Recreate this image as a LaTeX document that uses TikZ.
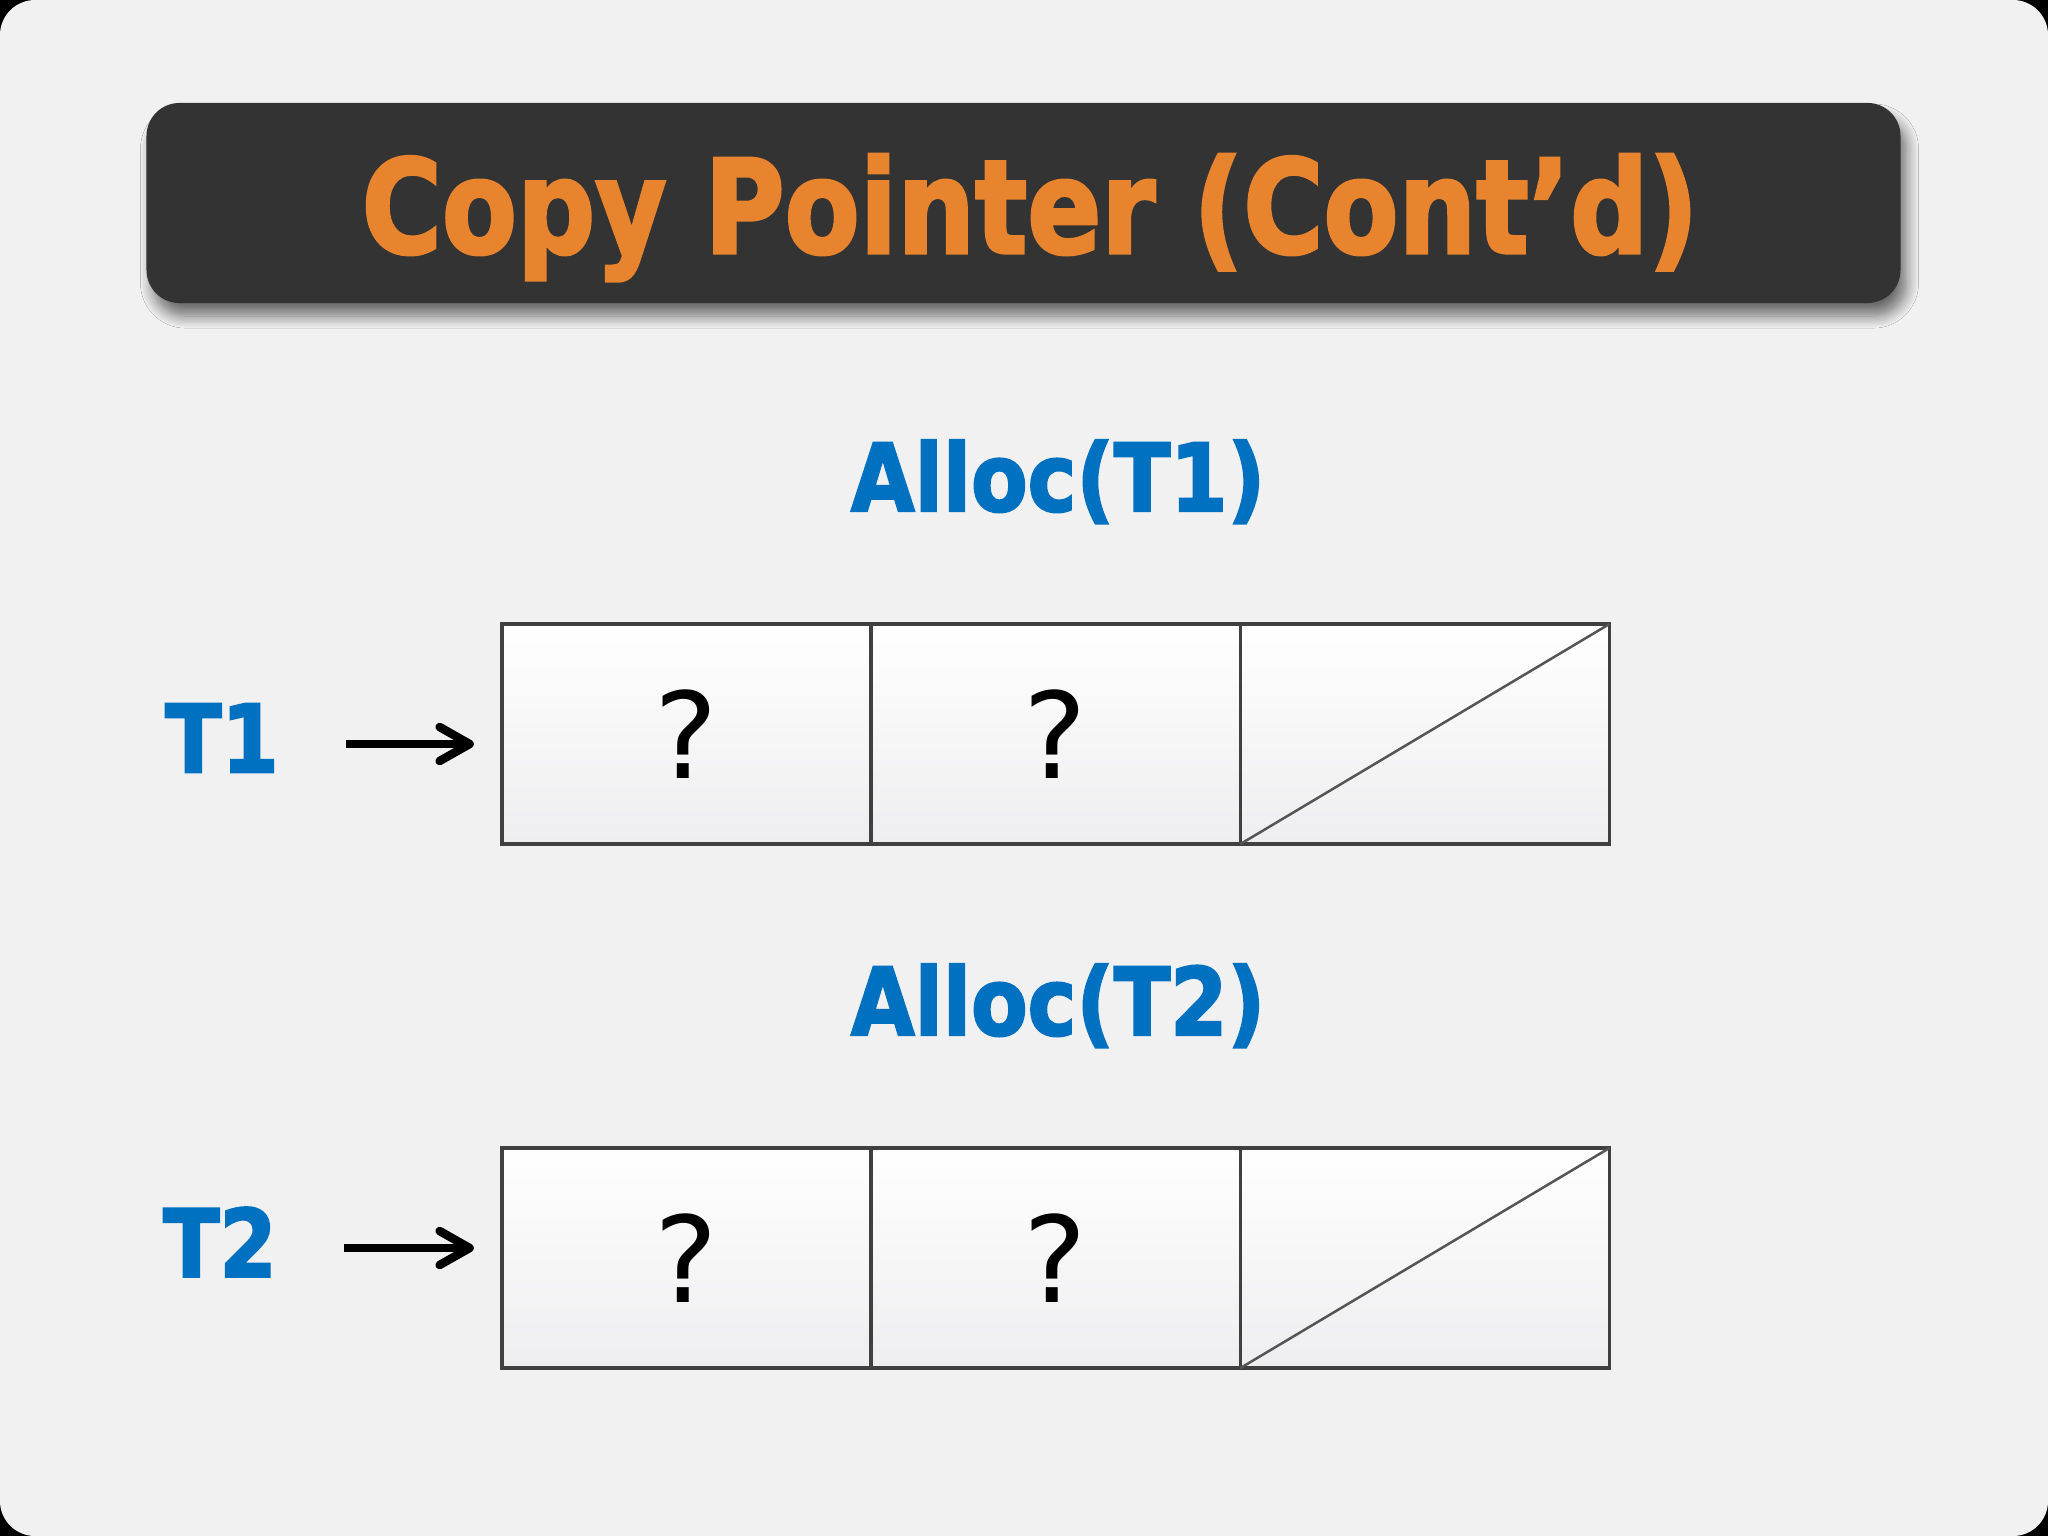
\documentclass[tikz,border=0pt]{standalone}
\usepackage{fontspec}
\usetikzlibrary{positioning,arrows.meta,shadows.blur}
\newfontfamily\labelfont{DejaVu Sans}
\newfontfamily\heavyfont{DejaVu Sans Bold}[FakeBold=2.5]
\newcommand{\squeeze}[2][0.88]{\scalebox{#1}[1]{#2}}
\definecolor{bgcol}{HTML}{F1F1F2}
\definecolor{titlebox}{HTML}{333333}
\definecolor{titleorange}{HTML}{E8832E}
\definecolor{labelblue}{HTML}{0070C0}
\definecolor{cellline}{HTML}{404040}
\definecolor{cellbot}{HTML}{EEEEF0}
\definecolor{slash}{HTML}{555555}

\begin{document}
\begin{tikzpicture}[x=0.01cm,y=-0.01cm,
		cell/.style={draw=cellline,line width=0.035cm,top color=white,bottom color=cellbot,
			minimum width=3.69cm,minimum height=2.2cm,inner sep=0pt,outer sep=0pt,
			font=\labelfont\fontsize{34}{40}\selectfont},
		lbl/.style={text=labelblue,inner sep=0pt,font=\heavyfont\fontsize{26.6}{32}\selectfont},
		ptr/.style={line width=0.085cm,-{Straight Barb[length=0.3cm,width=0.34cm,round]},
			shorten <=0.67cm,shorten >=0.28cm}]
		\useasboundingbox (0,0) rectangle (2048,1536);
		\fill[black] (0,0) rectangle (2048,1536);
		\fill[bgcol,rounded corners=0.35cm] (0,0) rectangle (2048,1536);
		%
		\node[fill=titlebox,rounded corners=0.33cm,minimum width=17.53cm,minimum height=2cm,
			blur shadow={shadow xshift=0.06cm,shadow yshift=-0.13cm,shadow blur steps=10,shadow blur radius=0.12cm,shadow opacity=55}] (title) at (1023.5,203) {};
		\node[anchor=base,inner sep=0pt,text=titleorange,font=\heavyfont\fontsize{37}{44}\selectfont] (head) at (1030,253) {\squeeze[0.84]{Copy Pointer (Cont’d)}};
		%
		\node[lbl,anchor=base] (alloc1) at (1058,511) {\squeeze{Alloc(T1)}};
		\node[cell] (c11) at (686.5,734) {?};
		\node[cell,right=0pt of c11] (c12) {?};
		\node[cell,right=0pt of c12] (c13) {};
		\draw[slash,line width=0.025cm] (c13.south west) -- (c13.north east);
		\node[lbl] (t1) at (222,738) {\squeeze{T1}};
		\draw[ptr] ([yshift=-0.06cm]t1.east) -- ([yshift=-0.06cm]t1.east -| c11.west);
		%
		\node[lbl,anchor=base] (alloc2) at (1058,1035) {\squeeze{Alloc(T2)}};
		\node[cell] (c21) at (686.5,1258) {?};
		\node[cell,right=0pt of c21] (c22) {?};
		\node[cell,right=0pt of c22] (c23) {};
		\draw[slash,line width=0.025cm] (c23.south west) -- (c23.north east);
		\node[lbl] (t2) at (220,1242) {\squeeze{T2}};
		\draw[ptr] ([yshift=-0.06cm]t2.east) -- ([yshift=-0.06cm]t2.east -| c21.west);
	\end{tikzpicture}
\end{document}
